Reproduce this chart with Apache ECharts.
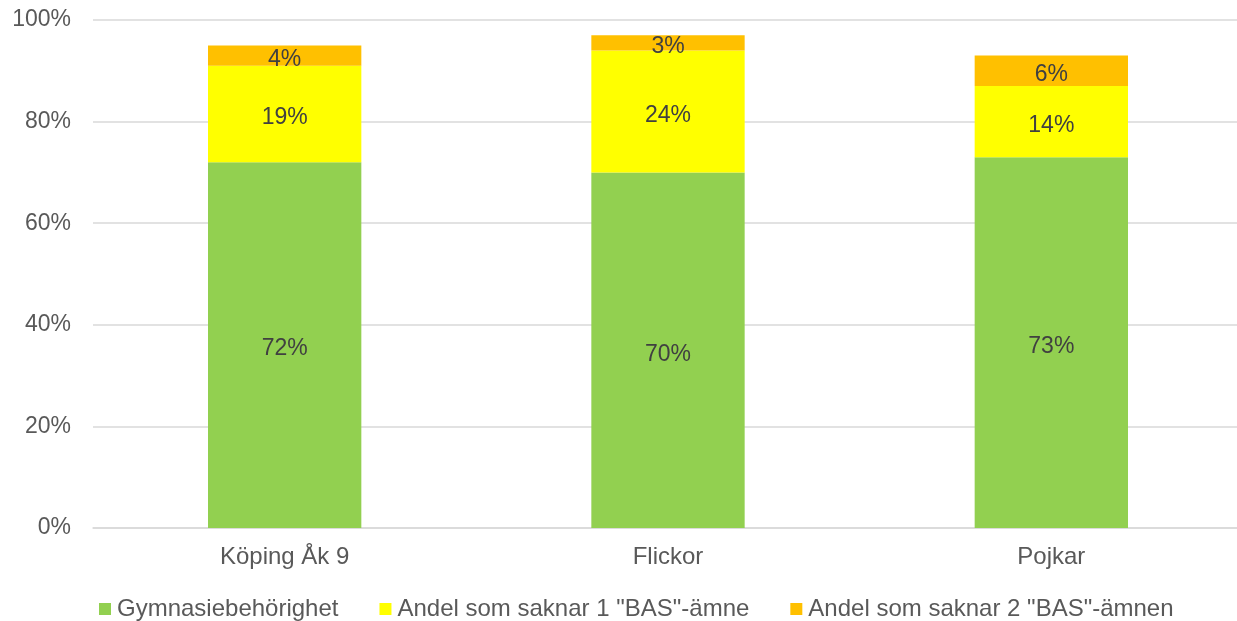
<!DOCTYPE html>
<html>
<head>
<meta charset="utf-8">
<script src="https://cdn.jsdelivr.net/npm/echarts@6/dist/echarts.min.js"></script>
<style>
html,body{margin:0;padding:0;background:#fff;}
#chart{width:1237px;height:621px;}
</style>
</head>
<body>
<div id="chart"></div>
<script>
const categories = ['Köping Åk 9', 'Flickor', 'Pojkar'];
const seriesNames = ['Gymnasiebehörighet', 'Andel som saknar 1 "BAS"-ämne', 'Andel som saknar 2 "BAS"-ämnen'];
const gymnasie = [72, 70, 73];
const saknar1 = [19, 24, 14];
const saknar2 = [4, 3, 6];
const colors = ['#92D050', '#FFFF00', '#FFC000'];

const font = '"Liberation Sans", Arial, sans-serif';
const chart = echarts.init(document.getElementById('chart'));

function mkSeries(name, data, color) {
  return {
    name: name,
    type: 'bar',
    stack: 'total',
    data: data,
    barWidth: '40%',
    itemStyle: { color: color },
    label: {
      show: true,
      position: 'inside',
      offset: [0, 4],
      formatter: p => p.value + '%',
      color: '#404040',
      fontFamily: font,
      fontSize: 23
    }
  };
}

chart.setOption({
  animation: false,
  textStyle: { fontFamily: font },
  grid: { left: 93, width: 1150, top: 20, bottom: 93, containLabel: false, outerBoundsMode: 'none' },
  legend: {
    top: 592,
    left: 94,
    itemWidth: 12,
    itemHeight: 12,
    itemGap: 41,
    icon: 'rect',
    textStyle: { color: '#595959', fontSize: 24, fontFamily: font, padding: [0, 0, 0, 1] },
    data: seriesNames
  },
  xAxis: {
    type: 'category',
    data: categories,
    axisLine: { lineStyle: { color: '#D9D9D9', width: 1.5 } },
    axisTick: { show: false },
    axisLabel: { color: '#595959', fontSize: 24, fontFamily: font, margin: 17 }
  },
  yAxis: {
    type: 'value',
    min: 0,
    max: 100,
    interval: 20,
    axisLine: { show: false },
    axisTick: { show: false },
    splitLine: { lineStyle: { color: '#D9D9D9', width: 1.5 } },
    axisLabel: { color: '#595959', fontSize: 23, fontFamily: font, margin: 22, formatter: v => v + '%' }
  },
  series: [
    mkSeries(seriesNames[0], gymnasie, colors[0]),
    mkSeries(seriesNames[1], saknar1, colors[1]),
    mkSeries(seriesNames[2], saknar2, colors[2])
  ]
});
</script>
</body>
</html>
